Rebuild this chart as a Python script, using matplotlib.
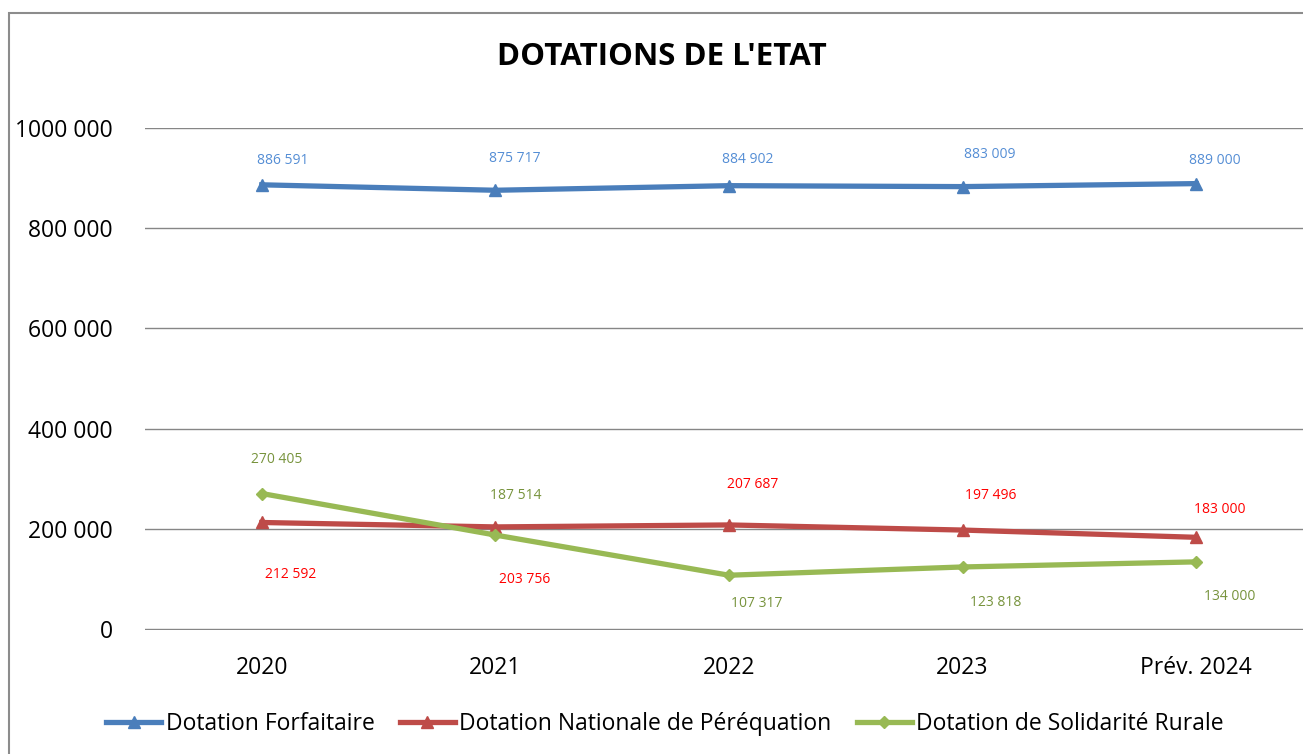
import matplotlib
matplotlib.use("Agg")
import matplotlib.pyplot as plt
from matplotlib.patches import Rectangle

categories = ["2020", "2021", "2022", "2023", "Prév. 2024"]
forfaitaire = [886591, 875717, 884902, 883009, 889000]
perequation = [212592, 203756, 207687, 197496, 183000]
solidarite = [270405, 187514, 107317, 123818, 134000]
yticks = [0, 200000, 400000, 600000, 800000, 1000000]
ytick_labels = ["0", "200 000", "400 000", "600 000", "800 000", "1000 000"]

def fmt(v):
    return f"{v:,}".replace(",", " ")

plt.rcParams['font.family'] = ['Open Sans', 'DejaVu Sans']

fig = plt.figure(figsize=(13.03, 7.54), dpi=100)
fig.patches.append(Rectangle((9/1303, -0.01), 1.1, (754-13)/754 + 0.01, transform=fig.transFigure,
                             fill=False, edgecolor="#8c8c8c", linewidth=1.5))
ax = fig.add_axes([145/1303, 124/754, 1168/1303, 502/754])
x = list(range(len(categories)))

c_blue, c_red, c_green = "#4A7EBB", "#BE4B48", "#98B954"
ax.plot(x, forfaitaire, color=c_blue, lw=3.8, marker="^", ms=9, zorder=3, label="Dotation Forfaitaire")
ax.plot(x, perequation, color=c_red, lw=3.8, marker="^", ms=9, zorder=3, label="Dotation Nationale de Péréquation")
ax.plot(x, solidarite, color=c_green, lw=3.8, marker="D", ms=6.5, zorder=4, label="Dotation de Solidarité Rurale")

# label offsets in pixels (dx, dy)
off_blue = [(21, 24), (19, 32), (19, 26), (27, 32), (19, 23)]
off_red = [(29, -52), (29, -53), (24, 40), (28, 35), (24, 28)]
off_green = [(15, 34), (20, 40), (28, -28), (33, -36), (33, -35)]
for vals, offs, col in [(forfaitaire, off_blue, "#558ED5"), (perequation, off_red, "#FF0000"),
                        (solidarite, off_green, "#77933C")]:
    for i, v in enumerate(vals):
        dx, dy = offs[i]
        ax.annotate(fmt(v), (i, v), xytext=(dx*0.72, dy*0.72), textcoords="offset points",
                    ha="center", va="center", fontsize=10, color=col)

ax.set_xlim(-0.5, 4.5)
ax.set_ylim(-2000, 1000000)
ax.set_yticks(yticks)
ax.set_yticklabels(ytick_labels, fontsize=16.5)
ax.set_xticks(x)
ax.set_xticklabels(categories, fontsize=16.5)
ax.tick_params(length=0)
ax.tick_params(axis="x", pad=19)
ax.tick_params(axis="y", pad=23)
ax.grid(axis="y", color="#868686", lw=1)
ax.set_axisbelow(True)
for s in ax.spines.values():
    s.set_visible(False)

fig.text(662/1303, 1 - 57/754, "DOTATIONS DE L'ETAT", ha="center", va="center",
         fontsize=22.5, fontweight="bold")

handles, labels = ax.get_legend_handles_labels()
fig.legend(handles, labels, loc="center", bbox_to_anchor=(665/1303, 1 - 724/754), ncol=3,
           frameon=False, fontsize=16.5, handlelength=2.4, columnspacing=1.1, handletextpad=0.2)

fig.savefig("out.png", dpi=100)
